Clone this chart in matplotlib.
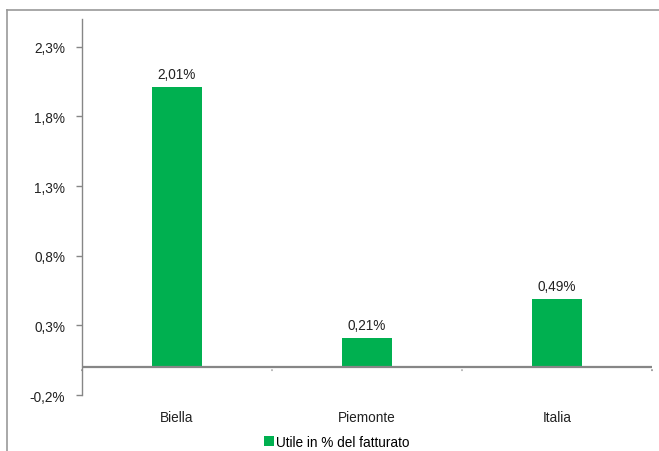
import matplotlib.pyplot as plt
from matplotlib.lines import Line2D

plt.rcParams['font.family'] = ['Liberation Sans', 'DejaVu Sans']

categories = ['Biella', 'Piemonte', 'Italia']
values = [2.01, 0.21, 0.49]
yticks = [-0.2, 0.3, 0.8, 1.3, 1.8, 2.3]
series_name = 'Utile in % del fatturato'

green = '#00B050'
grey = '#868686'
fs = 9.8

fig = plt.figure(figsize=(6.59, 4.52), dpi=100)
ax = fig.add_axes([82 / 659, 1 - 396 / 452, 570 / 659, 376 / 452])

x = list(range(len(categories)))
bars = ax.bar(x, values, width=0.265, color=green, label=series_name, zorder=3)
for b, v in zip(bars, values):
    ax.text(b.get_x() + b.get_width() / 2, v + 0.045, ('%.2f%%' % v).replace('.', ','),
            ha='center', va='bottom', fontsize=fs, color='#222222')

ax.set_xlim(-0.5, len(categories) - 0.5)
ax.set_ylim(-0.2, 2.5)
ax.set_yticks(yticks)
ax.set_yticklabels([('%.1f%%' % t).replace('.', ',') for t in yticks], fontsize=fs, color='#222222')
ax.set_xticks(x)
ax.set_xticklabels(categories, fontsize=fs, color='#222222')
ax.tick_params(axis='x', length=0, pad=11)
ax.tick_params(axis='y', length=4, width=1, color=grey, direction='out', pad=8)

for s in ['top', 'right', 'bottom']:
    ax.spines[s].set_visible(False)
ax.spines['left'].set_color(grey)
ax.spines['left'].set_linewidth(1)

# zero line with category separator ticks
ax.axhline(0, color=grey, lw=1.6, zorder=4)
for i in range(len(categories) + 1):
    xb = i - 0.5
    c = '#a8a8a8' if 0 < i < len(categories) else grey
    ax.annotate('', xy=(xb, 0), xytext=(0, -6), textcoords='offset pixels',
                xycoords='data', arrowprops=dict(arrowstyle='-', color=c, lw=1.2))

# outer frame of the chart area
fig.add_artist(Line2D([7 / 659, 1], [1 - 11 / 452, 1 - 11 / 452], color='#999999', lw=1.2))
fig.add_artist(Line2D([7 / 659, 7 / 659], [0, 1 - 11 / 452], color='#999999', lw=1.2))

fig.legend(loc='center', bbox_to_anchor=(337 / 659, 1 - 443 / 452), frameon=False,
           fontsize=fs, handlelength=0.7, handleheight=0.7, handletextpad=0.2, borderpad=0)

plt.savefig('out.png', dpi=100)
